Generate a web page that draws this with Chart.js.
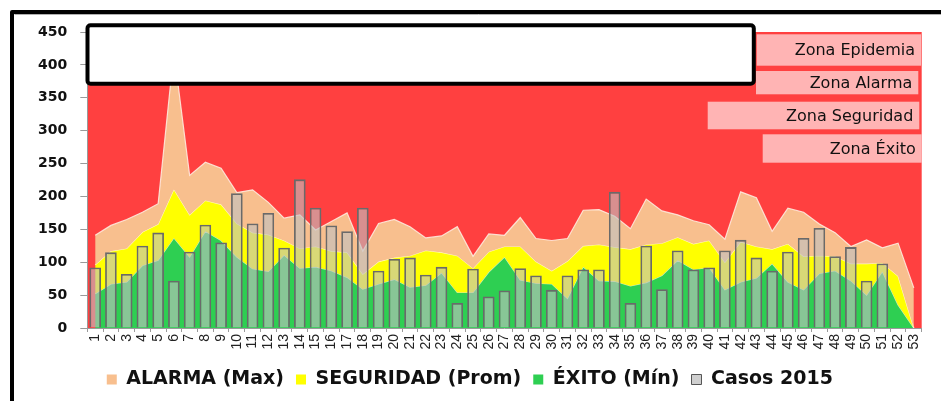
<!DOCTYPE html>
<html>
<head>
<meta charset="utf-8">
<script src="https://cdn.jsdelivr.net/npm/chart.js@4/dist/chart.umd.min.js"></script>
<style>
html,body{margin:0;padding:0;background:#fff;}
#wrap{width:941px;height:401px;position:relative;}
</style>
</head>
<body>
<div id="wrap"><canvas id="c" width="941" height="401"></canvas></div>
<script>
// ---- data ----
const semanas = ['1','2','3','4','5','6','7','8','9','10','11','12','13','14','15','16','17','18','19','20','21','22','23','24','25','26','27','28','29','30','31','32','33','34','35','36','37','38','39','40','41','42','43','44','45','46','47','48','49','50','51','52','53'];

const alarmaMax = [141,156,165,176,189,420,232,252,243,206,210,191,167,172,149,162,175,117,159,165,154,137,140,154,109,143,141,168,136,133,136,179,180,170,151,196,178,172,163,157,135,207,198,147,182,176,158,145,124,134,122,129,61];

const seguridadProm = [96,117,121,146,158,211,172,194,188,159,145,142,133,121,124,117,115,82,101,107,110,118,115,110,91,116,124,124,101,87,102,125,127,123,120,127,129,138,128,133,100,131,124,120,128,109,110,109,98,98,99,79,0];

const exitoMin = [52,67,70,95,103,137,108,147,133,108,90,86,111,91,93,87,77,59,67,74,62,65,84,54,54,85,108,73,68,67,45,93,72,71,64,69,80,103,89,92,58,70,76,98,70,58,83,87,72,50,86,35,0];

const casos2015 = [92,115,82,125,145,72,116,157,130,205,159,175,122,226,183,156,147,183,87,105,107,81,93,38,90,48,57,91,80,58,80,89,89,207,38,125,59,118,89,92,118,134,107,87,116,137,152,109,123,72,98,null,null];

const yTicks = [0,50,100,150,200,250,300,350,400,450];

const zonas = ['Zona Epidemia','Zona Alarma','Zona Seguridad','Zona Éxito'];

// ---- decoration plugin (background, title box, zone labels, frame) ----
const zoneBoxes = [
  {left:756.7, top:34.3, bottom:65.7, inset:0.7},
  {left:756.0, top:71.0, bottom:94.3, inset:3.4},
  {left:707.7, top:101.7, bottom:129.3, inset:2.4},
  {left:762.7, top:134.3, bottom:162.7, inset:0}
];

const decor = {
  id:'decor',
  beforeDraw(chart){
    const {ctx, chartArea:a} = chart;
    ctx.save();
    ctx.fillStyle = '#ffffff';
    ctx.fillRect(0,0,chart.width,chart.height);
    ctx.fillStyle = '#ff4040';
    ctx.fillRect(a.left, a.top, a.right - a.left, a.bottom - a.top);
    ctx.restore();
  },
  afterDatasetsDraw(chart){
    const {ctx, chartArea:a} = chart;
    ctx.save();
    ctx.font = '16px "DejaVu Sans"';
    ctx.textAlign = 'right';
    ctx.textBaseline = 'middle';
    zonas.forEach((t,i)=>{
      const b = zoneBoxes[i];
      const r = a.right - b.inset;
      ctx.fillStyle = '#ffb4b4';
      ctx.fillRect(b.left, b.top, r - b.left, b.bottom - b.top);
      ctx.fillStyle = '#111';
      ctx.fillText(t, r - 6, (b.top + b.bottom)/2 + 1);
    });
    // empty title box
    ctx.beginPath();
    ctx.roundRect(87.5, 25.3, 666.3, 58.5, 3);
    ctx.fillStyle = '#ffffff';
    ctx.fill();
    ctx.lineWidth = 4;
    ctx.strokeStyle = '#000';
    ctx.stroke();
    ctx.restore();
  },
  afterDraw(chart){
    const {ctx} = chart;
    ctx.save();
    ctx.strokeStyle = '#000';
    ctx.lineWidth = 4;
    ctx.lineJoin = 'round';
    ctx.beginPath();
    ctx.moveTo(12, chart.height + 10);
    ctx.lineTo(12, 12);
    ctx.lineTo(chart.width + 10, 12);
    ctx.stroke();
    ctx.strokeStyle = '#b0b0b0';
    ctx.lineWidth = 1;
    ctx.beginPath();
    ctx.moveTo(14.5, 14.5);
    ctx.lineTo(chart.width + 10, 14.5);
    ctx.stroke();
    ctx.restore();
  }
};

const ctx = document.getElementById('c').getContext('2d');
new Chart(ctx, {
  type:'bar',
  data:{
    labels: semanas,
    datasets:[
      {type:'line', label:'ALARMA (Max)', data:alarmaMax, backgroundColor:'#f8bf8e', borderColor:'rgba(255,238,228,0.85)', borderWidth:1.2, pointRadius:0, tension:0, fill:1, order:2},
      {type:'line', label:'SEGURIDAD (Prom)', data:seguridadProm, backgroundColor:'#ffff00', borderColor:'rgba(255,255,215,0.85)', borderWidth:1.2, pointRadius:0, tension:0, fill:2, order:2},
      {type:'line', label:'ÉXITO (Mín)', data:exitoMin, backgroundColor:'#2ecf52', borderColor:'rgba(210,245,215,0.85)', borderWidth:1.2, pointRadius:0, tension:0, fill:'origin', order:2},
      {type:'bar', label:'Casos 2015', data:casos2015, backgroundColor:'rgba(192,192,192,0.62)', borderColor:'#6a6a6a', borderWidth:1.8, barPercentage:0.74, categoryPercentage:1.0, order:1}
    ]
  },
  options:{
    responsive:false,
    animation:false,
    devicePixelRatio:1,
    events:[],
    layout:{padding:{left:18, top:32, right:19.3, bottom:2}},
    plugins:{
      tooltip:{enabled:false},
      title:{display:false},
      legend:{
        display:true,
        position:'bottom',
        align:'center',
        labels:{
          boxWidth:10, boxHeight:10, padding:12,
          color:'#111',
          font:{family:'"DejaVu Sans"', size:19, weight:'bold'},
          sort:(a,b)=>a.datasetIndex-b.datasetIndex,
          generateLabels(chart){
            const items = Chart.defaults.plugins.legend.labels.generateLabels(chart);
            items.forEach(it=>{
              const ds = chart.data.datasets[it.datasetIndex];
              if (ds.type === 'line') { it.fillStyle = ds.backgroundColor; it.strokeStyle = ds.backgroundColor; it.lineWidth = 0; }
              else { it.fillStyle = '#cfcfcf'; it.strokeStyle = '#555'; it.lineWidth = 1; }
            });
            return items;
          }
        }
      }
    },
    scales:{
      x:{
        grid:{display:true, drawOnChartArea:false, drawTicks:true, tickLength:4, color:'#9a9a9a', offset:true},
        border:{display:true, color:'#9a9a9a'},
        ticks:{autoSkip:false, maxRotation:90, minRotation:90, padding:2, color:'#222', font:{family:'"Liberation Sans"', size:14}},
        afterFit(s){ s.height = 30; }
      },
      y:{
        min:0, max:450,
        afterBuildTicks(s){ s.ticks = yTicks.map(v=>({value:v})); },
        grid:{drawOnChartArea:false, drawTicks:true, tickLength:7, color:'#9a9a9a'},
        border:{display:true, color:'#9a9a9a'},
        ticks:{padding:13, color:'#111', font:{family:'"DejaVu Sans"', size:14, weight:'bold'}},
        afterFit(s){ s.width = 69.3; }
      }
    }
  },
  plugins:[decor]
});
</script>
</body>
</html>
